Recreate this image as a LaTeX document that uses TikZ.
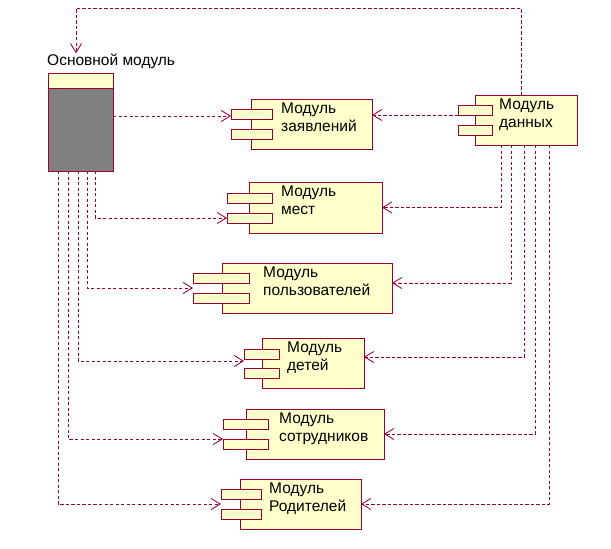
\documentclass[tikz,border=0pt]{standalone}
\usepackage{fontspec}
\setmainfont{Liberation Sans}
\usetikzlibrary{arrows.meta}
\definecolor{brd}{HTML}{990033}
\definecolor{yel}{HTML}{FFFFCC}
\definecolor{grayfill}{HTML}{808080}
\begin{document}
\begin{tikzpicture}[x=1pt,y=-1pt,
  box/.style={draw=brd, fill=yel, line width=0.9pt, anchor=north west, inner sep=0pt, outer sep=0pt},
  lbl/.style={anchor=base west, inner sep=0pt, align=left, font=\fontsize{15.5}{18}\selectfont},
  dep/.style={draw=brd, line width=0.95pt, dash pattern=on 3.2pt off 2.3pt, -{Straight Barb[length=9pt,width=11pt,line width=0.85pt]}}]
\useasboundingbox (0,0) rectangle (611,549);
\fill[white] (0,0) rectangle (611,549);

% main module
\node[box, minimum width=65pt, minimum height=98pt, fill=grayfill] (main) at (48,73) {};
\node[box, minimum width=65pt, minimum height=15pt] (mainhead) at (48,73) {};
\node[lbl] (mainlbl) at (47,65) {Основной модуль};

% components: body, then two small rects
\newcommand{\comp}[9]{%
  \node[box, minimum width=#4pt-#2pt, minimum height=#5pt-#3pt] (#1) at (#2,#3) {};
  \node[box, minimum width=#7pt-#6pt, minimum height=10pt] (#1a) at (#6,#8) {};
  \node[box, minimum width=#7pt-#6pt, minimum height=10pt] (#1b) at (#6,#9) {};
}
\comp{zay}{251}{99}{372}{149}{231}{272}{109}{129}
\comp{mest}{249}{182}{382}{233}{227}{272}{193}{213}
\comp{polz}{222}{263}{392}{313}{193}{249}{273}{293}
\comp{det}{262}{338}{364}{388}{244}{279}{349}{368}
\comp{sotr}{246}{409}{384}{459}{223}{268}{419}{439}
\comp{rod}{240}{479}{361}{529}{221}{261}{489}{509}
\comp{dan}{475}{95}{577}{145}{458}{492}{105}{125}

% labels (anchor at baseline of the second line)
\node[lbl] (zaylbl) at (281,131) {Модуль\\заявлений};
\node[lbl] (mestlbl) at (281,214) {Модуль\\мест};
\node[lbl] (polzlbl) at (263,295) {Модуль\\пользователей};
\node[lbl] (detlbl) at (287,370) {Модуль\\детей};
\node[lbl] (sotrlbl) at (279,441) {Модуль\\сотрудников};
\node[lbl] (rodlbl) at (269,511) {Модуль\\Родителей};
\node[lbl] (danlbl) at (499,127) {Модуль\\данных};

% connectors from main module
\draw[dep] (main.east |- 0,116) -- (zaya.west |- 0,116);
\draw[dep] ([xshift=47pt]main.south west) |- (mestb.west);
\draw[dep] ([xshift=39pt]main.south west) |- (polza.west |- polz.west);
\draw[dep] ([xshift=30pt]main.south west) |- (deta.west |- 0,361);
\draw[dep] ([xshift=20pt]main.south west) |- (sotrb.north west);
\draw[dep] ([xshift=10pt]main.south west) |- (roda.west |- rod.west);

% connectors from data module
\coordinate (tl) at (76,8);
\draw[dep] ([xshift=-5pt]dan.north) |- (tl) -- (tl |- mainlbl.north);
\draw[dep] (dana.south west) -- (zay.east |- dana.south west);
\draw[dep] ([xshift=26pt]dan.south west) |- (mest.east);
\draw[dep] ([xshift=36pt]dan.south west) |- ([yshift=5pt]polz.east);
\draw[dep] ([xshift=49pt]dan.south west) |- ([yshift=6pt]det.east);
\draw[dep] ([xshift=60pt]dan.south west) |- (sotr.east);
\draw[dep] ([xshift=74pt]dan.south west) |- (rod.east);
\end{tikzpicture}
\end{document}
